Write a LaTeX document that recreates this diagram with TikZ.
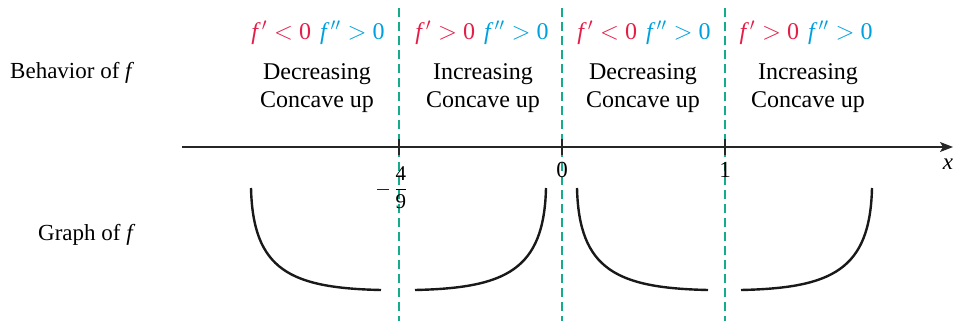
\documentclass[tikz,border=0pt]{standalone}
\usepackage{fontspec}
\setmainfont{Liberation Serif}
\usetikzlibrary{arrows.meta}
\definecolor{fred}{RGB}{228,30,72}
\definecolor{fblue}{RGB}{0,160,222}
\definecolor{fteal}{RGB}{20,172,140}
\tikzset{
  lbl/.style={font=\fontsize{23}{27}\selectfont, inner sep=0pt},
  cond/.style={font=\fontsize{24}{28}\selectfont, inner sep=0pt},
  beh/.style={font=\fontsize{24}{28}\selectfont, align=center, inner sep=0pt},
  asym/.style={fteal, line width=1.4pt, dash pattern=on 9pt off 5pt},
  curve/.style={line width=2.4pt, black!90},
  tick/.style={line width=1.1pt, black!85}
}
\newcommand{\fp}{\textit{f}\kern1pt$'$}
\newcommand{\fpp}{\textit{f}\kern1pt$''$}
\newcommand{\lt}{\kern7pt$<$\kern6pt}
\newcommand{\gt}{\kern7pt$>$\kern6pt}
\begin{document}
\begin{tikzpicture}[x=1pt,y=-1pt]
\useasboundingbox (0,0) rectangle (955,321);
% asymptote / division lines
\foreach \n/\x in {a/399,b/562,c/725}{
  \coordinate (\n top) at (\x,8);
  \coordinate (\n bot) at (\x,321);
  \draw[asym] (\n top) -- (\n bot);
}
% axis
\coordinate (xs) at (182,147);
\coordinate (xe) at (953,147);
\draw[line width=1.1pt, black!85, -{Stealth[length=13pt,width=10pt,inset=3pt]}] (xs) -- (xe);
\foreach \n/\x in {ta/399,tb/562,tc/725}{
  \coordinate (\n1) at (\x,139);
  \coordinate (\n2) at (\x,155);
  \draw[tick] (\n1) -- (\n2);
}
\node[lbl, font=\fontsize{21}{24}\selectfont, anchor=east] (m49) at (407.5,188) {\textcolor{black!85}{\rule[5.4pt]{12pt}{0.8pt}}\kern5pt$\displaystyle\frac{\hbox{4}}{\hbox{9}}$};
\node[lbl] (zero) at (562,170) {0};
\node[lbl] (one) at (725,170) {1};
\node[lbl] (xlab) at (948,164) {\textit{x}};
% condition labels
\node[cond] (c1) at (318,33) {\textcolor{fred}{\fp\lt 0}\kern9pt\textcolor{fblue}{\fpp\gt 0}};
\node[cond] (c2) at (482,33) {\textcolor{fred}{\fp\gt 0}\kern9pt\textcolor{fblue}{\fpp\gt 0}};
\node[cond] (c3) at (644,33) {\textcolor{fred}{\fp\lt 0}\kern9pt\textcolor{fblue}{\fpp\gt 0}};
\node[cond] (c4) at (806,33) {\textcolor{fred}{\fp\gt 0}\kern9pt\textcolor{fblue}{\fpp\gt 0}};
% behavior labels
\node[beh] (b1) at (317,88) {Decreasing\\Concave up};
\node[beh] (b2) at (483,88) {Increasing\\Concave up};
\node[beh] (b3) at (643,88) {Decreasing\\Concave up};
\node[beh] (b4) at (808,88) {Increasing\\Concave up};
\node[lbl, anchor=west] (behf) at (10,73) {Behavior of \textit{f}};
\node[lbl, anchor=west] (grf) at (38,235) {Graph of \textit{f}};
% graph pieces
\coordinate (g1a) at (251,188); \coordinate (g1b) at (381,290);
\coordinate (g2a) at (415,290); \coordinate (g2b) at (546,188);
\coordinate (g3a) at (577,188); \coordinate (g3b) at (708,290);
\coordinate (g4a) at (741,290); \coordinate (g4b) at (872,188);
\draw[curve] (g1a) .. controls +(2,82) and +(-91,-2) .. (g1b);
\draw[curve] (g2a) .. controls +(91,-2) and +(-2,82) .. (g2b);
\draw[curve] (g3a) .. controls +(2,82) and +(-91,-2) .. (g3b);
\draw[curve] (g4a) .. controls +(91,-2) and +(-2,82) .. (g4b);
\end{tikzpicture}
\end{document}
